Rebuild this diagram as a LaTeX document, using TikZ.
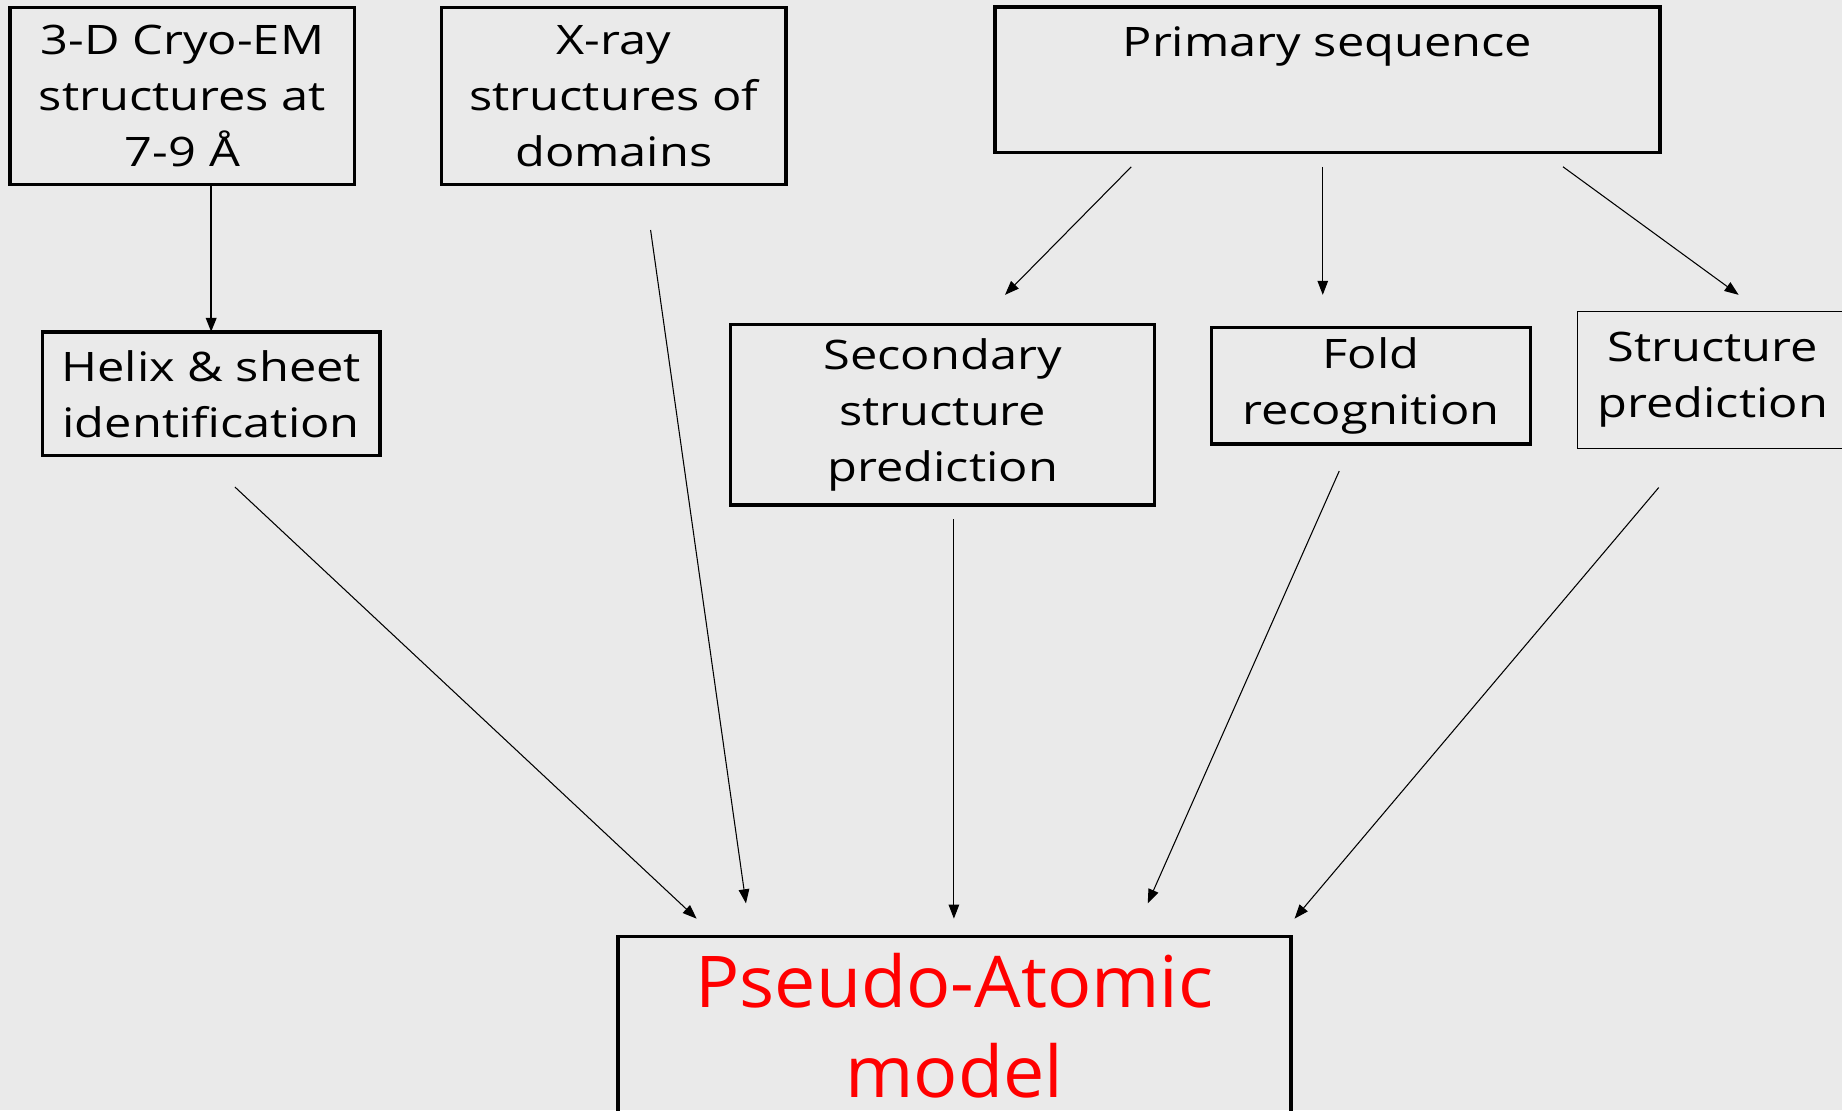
\documentclass[tikz,border=0pt]{standalone}
\usepackage{fontspec}
\usetikzlibrary{arrows.meta}
\newfontfamily\comic[FakeStretch=1.2]{Open Sans}
\newfontfamily\comicbig[FakeStretch=1.03]{Open Sans}
\definecolor{bgc}{RGB}{234,234,234}
\begin{document}
\begin{tikzpicture}[x=0.5pt,y=-0.5pt,
  box/.style={draw, line width=1.4pt, inner sep=0pt, outer sep=0pt, align=center,
    font=\comic\fontsize{17.3pt}{23.8pt}\selectfont},
  thinbox/.style={box, line width=0.6pt},
  arr/.style={-{Triangle[length=6pt,width=4.5pt]}, line width=0.45pt},
  thickarr/.style={-{Triangle[length=6pt,width=4.5pt]}, line width=0.9pt}]
\fill[bgc] (0,0) rectangle (1568,945);
\useasboundingbox (0,0) rectangle (1568,945);
\begin{scope}
\clip (0,0) rectangle (1568,945);
\node[box, minimum width=146.7pt, minimum height=75.4pt] (cryo) at (155.3,81.6)
  {3-D Cryo-EM\\structures at\\7-9 Å};
\node[box, minimum width=146.5pt, minimum height=75.4pt] (xray) at (522.5,81.6)
  {X-ray\\structures of\\domains};
\node[box, minimum width=283pt, minimum height=62pt] (prim) at (1130,68) {};
\node[font=\comic\fontsize{17.3pt}{23.8pt}\selectfont, anchor=base] (primtext) at (1130,48) {Primary sequence};
\node[box, minimum width=143.75pt, minimum height=52.75pt] (helix) at (179.75,335.25)
  {Helix \& sheet\\identification};
\node[box, minimum width=180.5pt, minimum height=77pt] (sec) at (802.5,353)
  {Secondary\\structure\\prediction};
\node[box, minimum width=136pt, minimum height=49.5pt] (fold) at (1167,328.5)
  {Fold\\recognition};
\node[thinbox, minimum width=115pt, minimum height=58.2pt] (struct) at (1458,323.5)
  {Structure\\prediction};
\node[box, minimum width=286.5pt, minimum height=76.5pt, text=red,
  font=\comicbig\fontsize{30.4pt}{38.3pt}\selectfont] (pam) at (812.5,873.5)
  {Pseudo-Atomic\\model};
\end{scope}
% connector end points
\coordinate (p2s-a) at (963,142);   \coordinate (p2s-b) at (855.5,251);
\coordinate (p2f-a) at (1126,142);  \coordinate (p2f-b) at (1126,251);
\coordinate (p2t-a) at (1330.5,142);\coordinate (p2t-b) at (1480,251);
\coordinate (h2m-a) at (200,414.6); \coordinate (h2m-b) at (593,782);
\coordinate (x2m-a) at (553.8,195.8);\coordinate (x2m-b) at (635,769);
\coordinate (s2m-a) at (812,442);   \coordinate (s2m-b) at (812,782);
\coordinate (f2m-a) at (1140,401);  \coordinate (f2m-b) at (977,769);
\coordinate (t2m-a) at (1412,415);  \coordinate (t2m-b) at (1102,782);
\draw[thickarr] (cryo.south -| helix.north) -- (helix.north);
\draw[arr] (p2s-a) -- (p2s-b);
\draw[arr] (p2f-a) -- (p2f-b);
\draw[arr] (p2t-a) -- (p2t-b);
\draw[arr] (h2m-a) -- (h2m-b);
\draw[arr] (x2m-a) -- (x2m-b);
\draw[arr] (s2m-a) -- (s2m-b);
\draw[arr] (f2m-a) -- (f2m-b);
\draw[arr] (t2m-a) -- (t2m-b);
\end{tikzpicture}
\end{document}
